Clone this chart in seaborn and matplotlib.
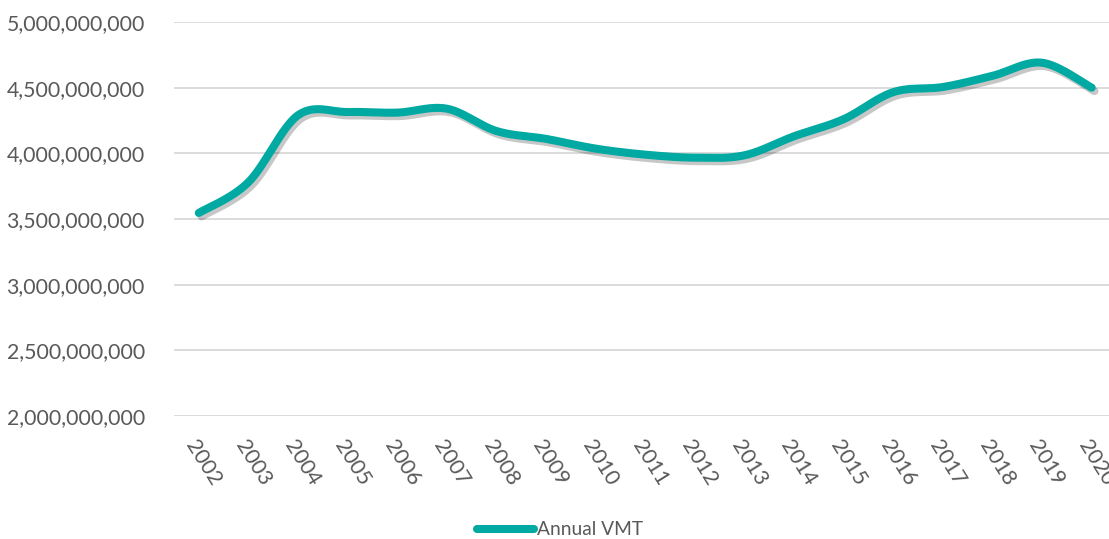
import numpy as np
import pandas as pd
import matplotlib
matplotlib.use("Agg")
import matplotlib.pyplot as plt
import matplotlib.patheffects as pe
from matplotlib.ticker import FuncFormatter
from matplotlib.lines import Line2D
import seaborn as sns

years = [2002, 2003, 2004, 2005, 2006, 2007, 2008, 2009, 2010, 2011,
         2012, 2013, 2014, 2015, 2016, 2017, 2018, 2019, 2020]
annual_vmt = [3.546e9, 3.78e9, 4.29e9, 4.315e9, 4.31e9, 4.34e9, 4.17e9, 4.11e9,
              4.036e9, 3.99e9, 3.967e9, 3.985e9, 4.13e9, 4.26e9, 4.466e9,
              4.505e9, 4.59e9, 4.69e9, 4.50e9]
y_ticks = [2.0e9, 2.5e9, 3.0e9, 3.5e9, 4.0e9, 4.5e9, 5.0e9]
series_name = "Annual VMT"

LINE = "#00A9A2"
TEXT = "#595959"
GRID = "#D9D9D9"


def smooth(xs, ys, n=30):
    """Excel-like smoothed line: cubic Bezier with Catmull-Rom control points."""
    xs = np.asarray(xs, float)
    ys = np.asarray(ys, float)
    ox, oy = [], []
    m = len(xs)
    t = np.linspace(0, 1, n, endpoint=False)
    for i in range(m - 1):
        p0 = (xs[max(i - 1, 0)], ys[max(i - 1, 0)])
        p1 = (xs[i], ys[i])
        p2 = (xs[i + 1], ys[i + 1])
        p3 = (xs[min(i + 2, m - 1)], ys[min(i + 2, m - 1)])
        c1 = (p1[0] + (p2[0] - p0[0]) / 6, p1[1] + (p2[1] - p0[1]) / 6)
        c2 = (p2[0] - (p3[0] - p1[0]) / 6, p2[1] - (p3[1] - p1[1]) / 6)
        for a, b in ((0, ox), (1, oy)):
            b.extend((1 - t) ** 3 * p1[a] + 3 * (1 - t) ** 2 * t * c1[a]
                     + 3 * (1 - t) * t ** 2 * c2[a] + t ** 3 * p2[a])
    ox.append(xs[-1])
    oy.append(ys[-1])
    return np.array(ox), np.array(oy)


sns.set_theme(style="white")
plt.rcParams["font.family"] = ["Lato", "DejaVu Sans"]

sx, sy = smooth(years, annual_vmt)
df = pd.DataFrame({"Year": sx, "VMT": sy, "Series": series_name})

fig = plt.figure(figsize=(11.09, 5.39), dpi=100)
ax = fig.add_axes([174 / 1109, 1 - 416 / 539, (1113 - 174) / 1109, (416 - 22) / 539])

sns.lineplot(data=df, x="Year", y="VMT", hue="Series", palette=[LINE],
             sort=False, estimator=None, linewidth=5.8, ax=ax, legend=False,
             solid_capstyle="round")
ax.lines[0].set_path_effects([
    pe.SimpleLineShadow(offset=(2, -2.5), shadow_color="black", alpha=0.22),
    pe.Normal()])

ax.set_xlim(2001.5, 2020.43)
ax.set_ylim(y_ticks[0], y_ticks[-1])
ax.set_yticks(y_ticks)
ax.yaxis.set_major_formatter(FuncFormatter(lambda v, p: f"{v:,.0f}"))
ax.set_xticks(years)
ax.set_xticklabels([str(y) for y in years], rotation=-58, ha="left",
                   va="top", rotation_mode="anchor")
ax.tick_params(axis="x", length=0, pad=15, labelsize=15.5, colors=TEXT)
ax.tick_params(axis="y", length=0, pad=21, labelsize=15.3, colors=TEXT)
ax.grid(axis="y", color=GRID, linewidth=1.3)
ax.grid(axis="x", visible=False)
for s in ax.spines.values():
    s.set_visible(False)
ax.set_xlabel("")
ax.set_ylabel("")

handle = Line2D([], [], color=LINE, linewidth=5.8, solid_capstyle="round")
fig.legend([handle], [series_name], loc="center", bbox_to_anchor=(0.505, 0.017),
           frameon=False, fontsize=13.8, handlelength=3.0, handletextpad=0.15,
           labelcolor=TEXT)

fig.savefig("out.png", dpi=100)
